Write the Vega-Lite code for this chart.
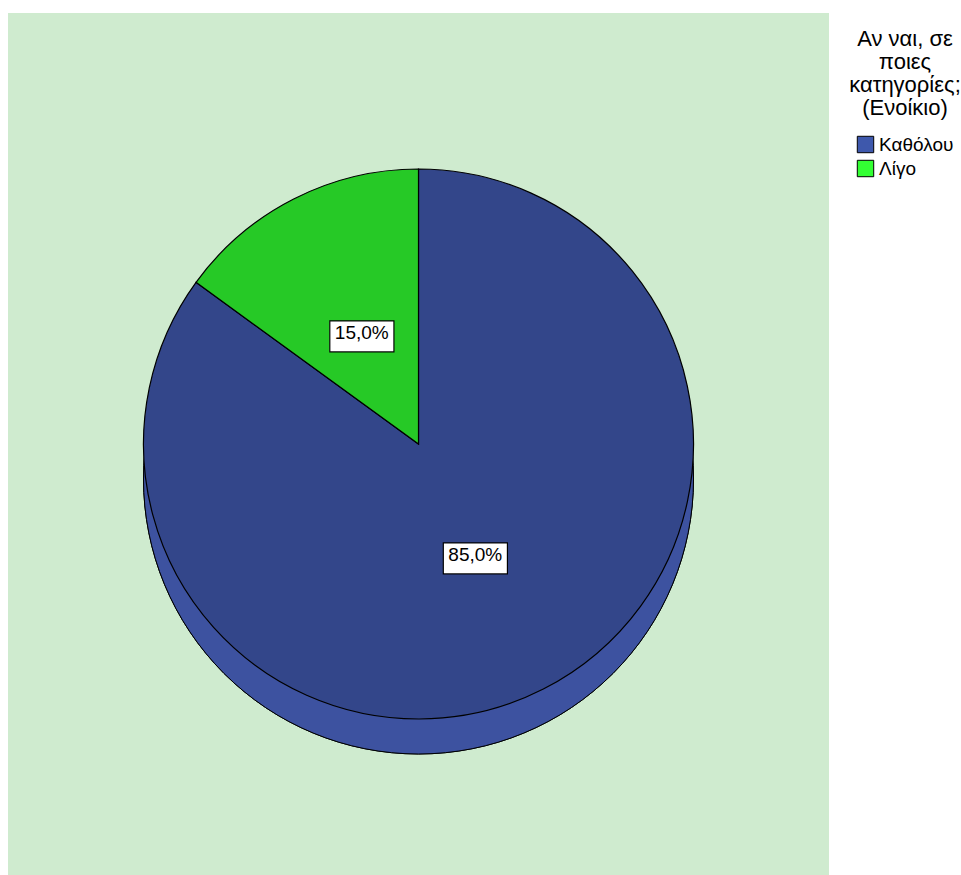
{
  "$schema": "https://vega.github.io/schema/vega-lite/v6.json",
  "width": 821,
  "height": 862,
  "padding": {"left": 8, "top": 13, "right": 0, "bottom": 0},
  "background": "white",
  "view": {"fill": "#cfebcf", "stroke": null},
  "config": {
    "font": "Liberation Sans"
  },
  "data": {
    "values": [
      {"category": "Καθόλου", "percent": 85, "label": "85,0%"},
      {"category": "Λίγο", "percent": 15, "label": "15,0%"}
    ]
  },
  "resolve": {"scale": {"color": "independent", "fill": "independent"}, "legend": {"color": "independent", "fill": "independent"}},
  "layer": [
    {
      "mark": {"type": "arc", "outerRadius": 275, "yOffset": 35, "fill": "#3d52a0", "stroke": "black", "strokeWidth": 1},
      "encoding": {}
    },
    {
      "mark": {"type": "arc", "outerRadius": 275, "stroke": "black", "strokeWidth": 1.2},
      "encoding": {
        "theta": {"field": "percent", "type": "quantitative", "stack": true},
        "fill": {
          "field": "category",
          "type": "nominal",
          "scale": {"domain": ["Καθόλου", "Λίγο"], "range": ["#33468a", "#26c926"]},
          "legend": null
        }
      }
    },
    {
      "mark": {"type": "square", "size": 0, "opacity": 0},
      "encoding": {
        "color": {
          "field": "category",
          "type": "nominal",
          "scale": {"domain": ["Καθόλου", "Λίγο"], "range": ["#3e58ac", "#33ff33"]},
          "legend": {
            "title": ["Αν ναι, σε", "ποιες", "κατηγορίες;", "(Ενοίκιο)"],
            "orient": "right",
            "offset": 4,
            "titleFontSize": 22,
            "titleFontWeight": "normal",
            "titleColor": "black",
            "titleAlign": "center",
            "titleAnchor": "middle",
            "titleLineHeight": 23,
            "titlePadding": 15,
            "labelFontSize": 19,
            "labelColor": "black",
            "symbolType": "square",
            "symbolSize": 270,
            "symbolStrokeColor": "black",
            "symbolStrokeWidth": 1,
            "symbolOpacity": 1,
            "rowPadding": 3,
            "labelOffset": 4,
            "padding": 16
          }
        }
      }
    },
    {
      "mark": {"type": "text", "radius": 125, "text": "▬", "fontSize": 84, "fill": "white", "stroke": "black", "strokeWidth": 1.2, "font": "DejaVu Sans"},
      "encoding": {
        "theta": {"field": "percent", "type": "quantitative", "stack": true},
        "order": {"field": "category"}
      }
    },
    {
      "mark": {"type": "text", "radius": 125, "fontSize": 19, "fill": "black"},
      "encoding": {
        "theta": {"field": "percent", "type": "quantitative", "stack": true},
        "text": {"field": "label"},
        "order": {"field": "category"}
      }
    }
  ]
}
